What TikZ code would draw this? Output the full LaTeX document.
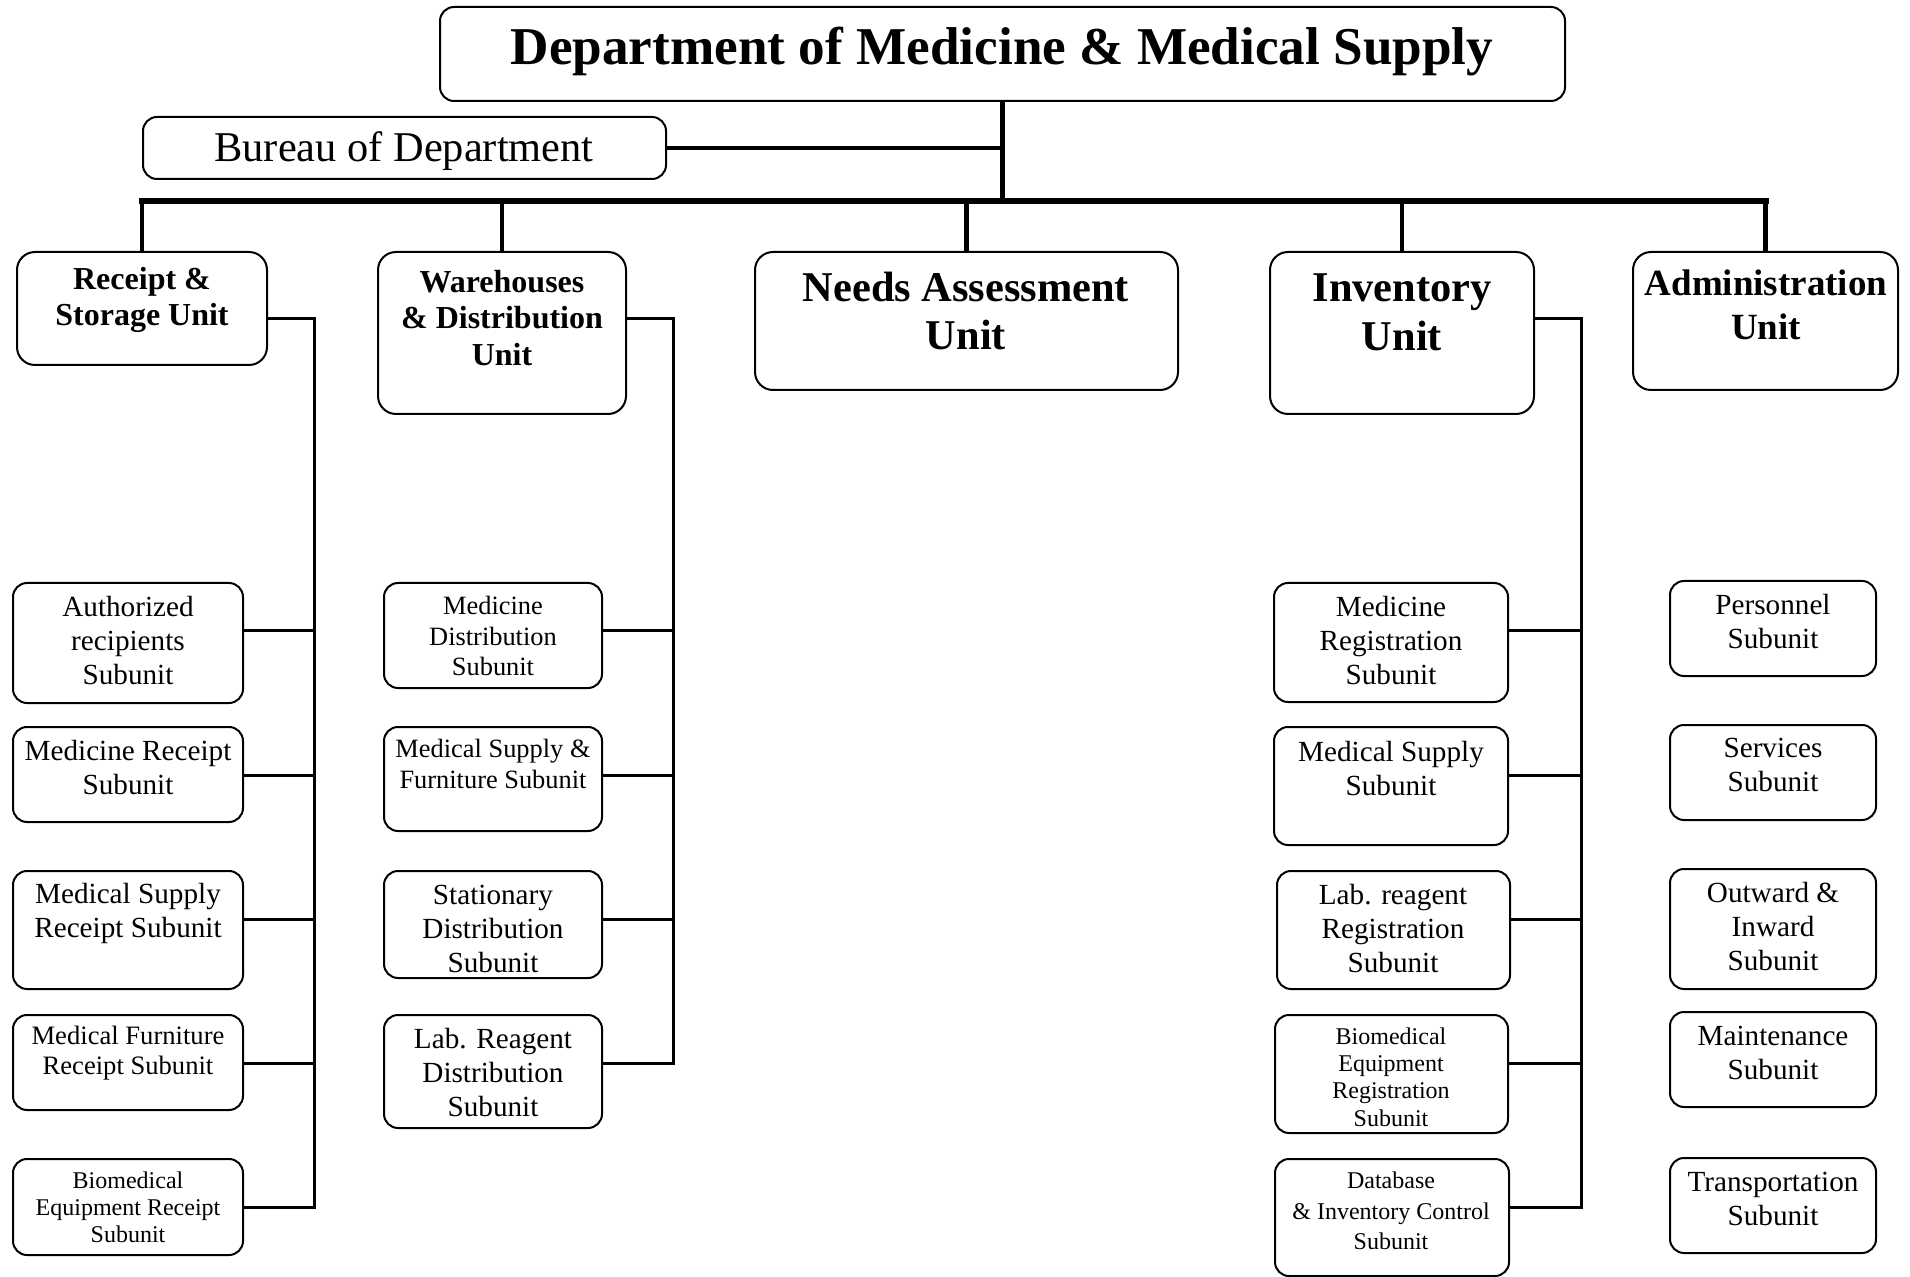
\documentclass[tikz,border=0pt]{standalone}
\usepackage{fontspec}
\setmainfont{Liberation Serif}
\usetikzlibrary{fit,calc}
\tikzset{
  sbx/.style={draw, rounded corners=7pt, line width=1pt, inner sep=0pt},
  ubx/.style={draw, rounded corners=9pt, line width=1pt, inner sep=0pt},
  txt/.style={align=center, inner sep=0pt},
  ftA/.style={font=\fontsize{14.6}{17}\selectfont},
  ftB/.style={font=\fontsize{13.2}{15.2}\selectfont},
  ftC/.style={font=\fontsize{12}{13.5}\selectfont},
  conn/.style={line width=1.5pt, line join=miter},
  drop/.style={line width=2.2pt},
  busline/.style={line width=3pt, line cap=rect},
}
\begin{document}
\begin{tikzpicture}[x=0.5pt,y=-0.5pt]
\useasboundingbox (0,0) rectangle (1910,1277);

% top
\node[ubx, rounded corners=7pt, fit={(440,7)(1565,101)}] (dept) {};
\node[txt, font=\bfseries\fontsize{26.6}{30}\selectfont] (deptT) at (1002,52) {Department of Medicine \& Medical Supply};
\node[sbx, fit={(143,117)(666,179)}] (bur) {};
\node[txt, font=\fontsize{21.2}{24}\selectfont] (burT) at (404,151) {Bureau of Department};

% units
\node[ubx, fit={(17,252)(267,365)}] (rs) {};
\node[txt, font=\bfseries\fontsize{16}{18.3}\selectfont] (rsT) at (142,300) {Receipt \&\\Storage Unit};
\node[ubx, fit={(378,252)(626,414)}] (wd) {};
\node[txt, font=\bfseries\fontsize{16}{18.3}\selectfont] (wdT) at (502,318) {Warehouses\\\& Distribution\\Unit};
\node[ubx, fit={(755,252)(1178,390)}] (na) {};
\node[txt, font=\bfseries\fontsize{21.2}{24.4}\selectfont] (naT) at (966,311) {Needs Assessment\\Unit};
\node[ubx, fit={(1270,252)(1534,414)}] (inv) {};
\node[txt, font=\bfseries\fontsize{21.2}{24.4}\selectfont] (invT) at (1402,312) {Inventory\\Unit};
\node[ubx, fit={(1633,252)(1898,390)}] (adm) {};
\node[txt, font=\bfseries\fontsize{18.5}{22}\selectfont] (admT) at (1766,305) {Administration\\Unit};

% trunk, bus, drops
\coordinate (tj) at (1002,201);
\draw[line width=2.5pt] (dept.south -| tj) -- (tj);
\draw[line width=2pt] (bur.east) -- (bur.east -| tj);
\draw[busline] (rs.north |- tj) -- (adm.north |- tj);
\foreach \u in {rs,wd,na,inv,adm} \draw[drop] (\u.north |- tj) -- (\u.north);

% column 1
\node[sbx, fit={(13,583)(243,703)}] (a1) {};
\node[txt, ftA] (a1T) at (128,641) {Authorized\\recipients\\Subunit};
\node[sbx, fit={(13,727)(243,822)}] (a2) {};
\node[txt, ftA] (a2T) at (128,768) {Medicine Receipt\\Subunit};
\node[sbx, fit={(13,871)(243,989)}] (a3) {};
\node[txt, ftA] (a3T) at (128,913) {Medical Supply\\Receipt Subunit};
\node[sbx, fit={(13,1015)(243,1110)}] (a4) {};
\node[txt, font=\fontsize{13.3}{15.4}\selectfont] (a4T) at (128,1053) {Medical Furniture\\Receipt Subunit};
\node[sbx, fit={(13,1159)(243,1255)}] (a5) {};
\node[txt, ftC] (a5T) at (128,1207) {Biomedical\\Equipment Receipt\\Subunit};

% column 2
\node[sbx, fit={(384,583)(602,688)}] (b1) {};
\node[txt, ftB] (b1T) at (493,636) {Medicine\\Distribution\\Subunit};
\node[sbx, fit={(384,727)(602,831)}] (b2) {};
\node[txt, ftB] (b2T) at (493,764) {Medical Supply \&\\Furniture Subunit};
\node[sbx, fit={(384,871)(602,978)}] (b3) {};
\node[txt, ftA] (b3T) at (493,929) {Stationary\\Distribution\\Subunit};
\node[sbx, fit={(384,1015)(602,1128)}] (b4) {};
\node[txt, ftA] (b4T) at (493,1073) {Lab. Reagent\\Distribution\\Subunit};

% column 3
\node[sbx, fit={(1274,583)(1508,702)}] (c1) {};
\node[txt, ftA] (c1T) at (1391,641) {Medicine\\Registration\\Subunit};
\node[sbx, fit={(1274,727)(1508,845)}] (c2) {};
\node[txt, ftA] (c2T) at (1391,769) {Medical Supply\\Subunit};
\node[sbx, fit={(1277,871)(1510,989)}] (c3) {};
\node[txt, ftA] (c3T) at (1393,929) {Lab. reagent\\Registration\\Subunit};
\node[sbx, fit={(1275,1015)(1508,1133)}] (c4) {};
\node[txt, font=\fontsize{12}{13.6}\selectfont] (c4T) at (1391,1077) {Biomedical\\Equipment\\Registration\\Subunit};
\node[sbx, fit={(1275,1159)(1509,1276)}] (c5) {};
\node[txt, font=\fontsize{12}{15.2}\selectfont] (c5T) at (1391,1211) {Database\\\& Inventory Control\\Subunit};

% column 4
\node[sbx, fit={(1670,581)(1876,676)}] (d1) {};
\node[txt, ftA] (d1T) at (1773,622) {Personnel\\Subunit};
\node[sbx, fit={(1670,725)(1876,820)}] (d2) {};
\node[txt, ftA] (d2T) at (1773,765) {Services\\Subunit};
\node[sbx, fit={(1670,869)(1876,989)}] (d3) {};
\node[txt, ftA] (d3T) at (1773,927) {Outward \&\\Inward\\Subunit};
\node[sbx, fit={(1670,1012)(1876,1107)}] (d4) {};
\node[txt, ftA] (d4T) at (1773,1053) {Maintenance\\Subunit};
\node[sbx, fit={(1670,1158)(1876,1253)}] (d5) {};
\node[txt, ftA] (d5T) at (1773,1199) {Transportation\\Subunit};

% connectors column 1
\coordinate (rsv) at (314,319);
\coordinate (rsb) at (314,1207);
\draw[conn] (rs.east |- rsv) -- (rsv) -- (rsb) -- (a5.east |- rsb);
\foreach \n/\y in {a1/631,a2/775,a3/919,a4/1063}
  \draw[conn] (\n.east |- 0,\y) -- (rsv |- 0,\y);

% connectors column 2
\coordinate (wdv) at (673,319);
\coordinate (wdb) at (673,1063);
\draw[conn] (wd.east |- wdv) -- (wdv) -- (wdb) -- (b4.east |- wdb);
\foreach \n/\y in {b1/631,b2/775,b3/919}
  \draw[conn] (\n.east |- 0,\y) -- (wdv |- 0,\y);

% connectors column 3
\coordinate (invv) at (1581,319);
\coordinate (invb) at (1581,1207);
\draw[conn] (inv.east |- invv) -- (invv) -- (invb) -- (c5.east |- invb);
\foreach \n/\y in {c1/631,c2/775,c3/919,c4/1063}
  \draw[conn] (\n.east |- 0,\y) -- (invv |- 0,\y);
\end{tikzpicture}
\end{document}
